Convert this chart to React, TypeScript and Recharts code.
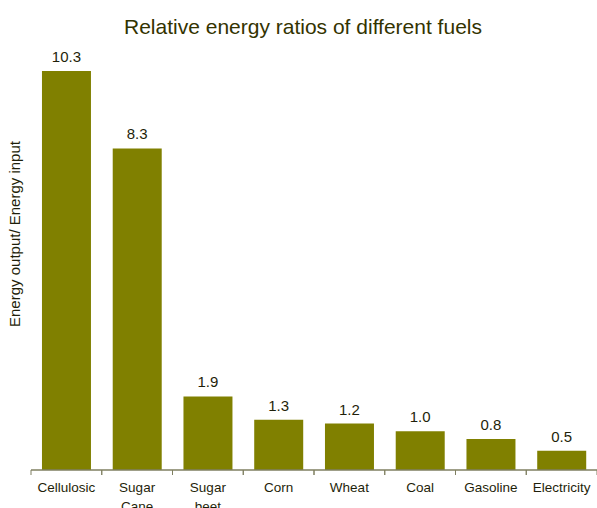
import { Bar, BarChart, LabelList, XAxis, YAxis } from 'recharts';

const fuels = ['Cellulosic', 'Sugar Cane', 'Sugar beet', 'Corn', 'Wheat', 'Coal', 'Gasoline', 'Electricity'];
const ratios = [10.3, 8.3, 1.9, 1.3, 1.2, 1.0, 0.8, 0.5];

const data = fuels.map((fuel, i) => ({ fuel, ratio: ratios[i] }));

const W = 597;
const H = 508;
const margin = { top: 5, right: 0, bottom: 0, left: 31 };
const step = (W - margin.left - margin.right) / fuels.length;
const axisColor = '#7f7f60';
const textColor = '#1f1f0a';
const font = 'Liberation Sans, Arial, sans-serif';

const FuelTick = ({ x, y, payload }: any) => {
  const lines = String(payload.value).split(' ');
  return (
    <g>
      <line x1={x - step / 2} y1={y - 8} x2={x - step / 2} y2={y - 3} stroke={axisColor} />
      <line x1={x + step / 2} y1={y - 8} x2={x + step / 2} y2={y - 3} stroke={axisColor} />
      <text x={x} y={y + 14} textAnchor="middle" fontSize={13.5} fill={textColor} fontFamily={font}>
        {lines.map((l, i) => (
          <tspan key={i} x={x} dy={i === 0 ? 0 : 19}>
            {l}
          </tspan>
        ))}
      </text>
    </g>
  );
};

export default function App() {
  return (
    <div style={{ position: 'relative', width: W, height: H, overflow: 'hidden', fontFamily: font }}>
      <style>{'body{margin:0}'}</style>
      <BarChart width={W} height={H} data={data} margin={margin} barCategoryGap="15.5%">
        <text x={303} y={34} textAnchor="middle" fontSize={21} fill="#333300" fontFamily={font}>
          Relative energy ratios of different fuels
        </text>
        <text
          x={0}
          y={0}
          transform="translate(20, 234) rotate(-90)"
          textAnchor="middle"
          fontSize={15}
          fill={textColor}
          fontFamily={font}
        >
          Energy output/ Energy input
        </text>
        <XAxis
          dataKey="fuel"
          height={38}
          tickLine={false}
          axisLine={{ stroke: axisColor, strokeWidth: 1.5 }}
          tick={<FuelTick />}
          interval={0}
          padding={{ left: 0, right: 0 }}
        />
        <YAxis
          domain={[0, 12]}
          width={0}
          tick={false}
          tickLine={false}
          axisLine={{ stroke: axisColor, strokeWidth: 1.5 }}
        />
        <Bar dataKey="ratio" fill="#808000" isAnimationActive={false}>
          <LabelList
            dataKey="ratio"
            position="top"
            offset={9}
            fontSize={15}
            fill={textColor}
            fontFamily={font}
            formatter={(v: any) => Number(v).toFixed(1)}
          />
        </Bar>
      </BarChart>
    </div>
  );
}
